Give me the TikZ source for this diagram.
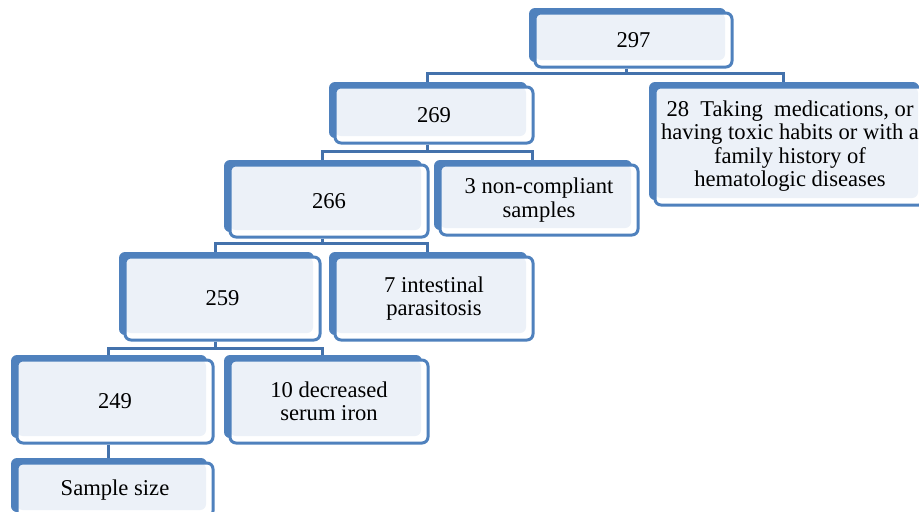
\documentclass[tikz,border=0pt]{standalone}
\usepackage{fontspec}
\setmainfont{Liberation Serif}
\usetikzlibrary{shadows,backgrounds}

\definecolor{boxblue}{RGB}{79,129,189}
\definecolor{boxlight}{RGB}{236,241,248}
\definecolor{linkblue}{RGB}{68,114,172}

\tikzset{
  sbox/.style={draw=boxblue, line width=1.5pt, rounded corners=3pt, fill=white,
    align=center, inner sep=2pt, font=\fontsize{11.3}{11.6}\selectfont,
    general shadow={fill=boxblue, shadow xshift=-3pt, shadow yshift=2.5pt},
    path picture={\fill[boxlight] (path picture bounding box.north west)
      rectangle ([xshift=-3.5pt,yshift=3.5pt]path picture bounding box.south east);}},
  link/.style={draw=linkblue, line width=1.5pt}
}

\begin{document}
\begin{tikzpicture}[x=0.5pt, y=-0.5pt]
	\useasboundingbox (0,0) rectangle (919,511);
	% Boxes
	\node[sbox, minimum width=98.5pt, minimum height=27pt] (n297) at (633.5,40) {297};
	\node[sbox, minimum width=99pt, minimum height=28pt] (n269) at (434,115) {269};
	\node[sbox, minimum width=135pt, minimum height=59pt] (n28) at (790,146)
		{28\ \ Taking\ \ medications, or\\having toxic habits or with a\\family history of\\hematologic diseases};
	\node[sbox, minimum width=99pt, minimum height=36pt] (n266) at (329,201) {266};
	\node[sbox, minimum width=99pt, minimum height=35pt] (n3) at (539,200) {3 non-compliant\\samples};
	\node[sbox, minimum width=97.5pt, minimum height=41.5pt] (n259) at (222.5,298.5) {259};
	\node[sbox, minimum width=99pt, minimum height=41.5pt] (n7) at (434,298.5) {7 intestinal\\parasitosis};
	\node[sbox, minimum width=98pt, minimum height=41.5pt] (n249) at (115,401.5) {249};
	\node[sbox, minimum width=99pt, minimum height=41.5pt] (n10) at (329,401.5) {10 decreased\\serum iron};
	\node[sbox, minimum width=98pt, minimum height=27pt] (nss) at (115,490) {Sample size};

	% Connectors
	\begin{scope}[on background layer]
		\draw[link] ([xshift=-3.5pt]n297.south) -- ++(0,5) -| ([xshift=-3.5pt]n269.north);
		\draw[link] ([xshift=-3.5pt]n297.south) -- ++(0,5) -| ([xshift=-3.5pt]n28.north);
		\draw[link] ([xshift=-3.5pt]n269.south) -- ++(0,7) -| ([xshift=-3.5pt]n266.north);
		\draw[link] ([xshift=-3.5pt]n269.south) -- ++(0,7) -| ([xshift=-3.5pt]n3.north);
		\draw[link] ([xshift=-3.5pt]n266.south) -- ++(0,5) -| ([xshift=-3.5pt]n259.north);
		\draw[link] ([xshift=-3.5pt]n266.south) -- ++(0,5) -| ([xshift=-3.5pt]n7.north);
		\draw[link] ([xshift=-3.5pt]n259.south) -- ++(0,7) -| ([xshift=-3.5pt]n249.north);
		\draw[link] ([xshift=-3.5pt]n259.south) -- ++(0,7) -| ([xshift=-3.5pt]n10.north);
		\draw[link] ([xshift=-3.5pt]n249.south) -- ([xshift=-3.5pt]nss.north);
	\end{scope}
\end{tikzpicture}
\end{document}
